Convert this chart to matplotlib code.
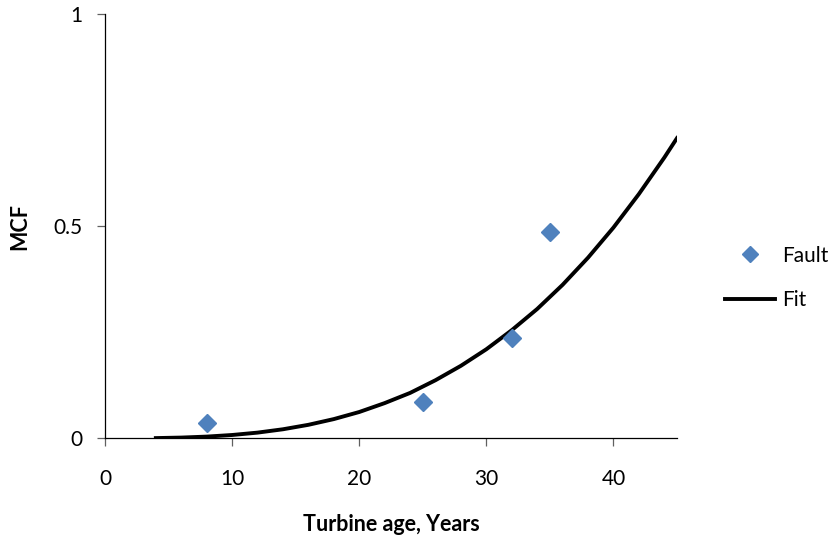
import matplotlib.pyplot as plt

plt.rcParams['font.family'] = ['Lato', 'DejaVu Sans']

# observed faults
age = [8, 25, 32, 35]
mcf = [0.037, 0.085, 0.237, 0.487]

# fitted curve, read along its length
fit_age = [4, 6, 8, 10, 12, 14, 16, 18, 20, 22, 24, 26, 28, 30, 32, 34, 36, 38, 40, 42, 44, 45]
fit_mcf = [0.0005, 0.0017, 0.004, 0.0078, 0.0134, 0.0213, 0.0318, 0.0453, 0.062, 0.083, 0.107,
           0.137, 0.171, 0.210, 0.255, 0.305, 0.362, 0.426, 0.497, 0.576, 0.662, 0.708]

xticks = [0, 10, 20, 30, 40]
yticks = [0, 0.5, 1]
yticklabels = ['0', '0.5', '1']

fig = plt.figure(figsize=(8.34, 5.4), dpi=100)
ax = fig.add_axes([105 / 834, 1 - 438.3 / 540, 572 / 834, 424 / 540])

ax.plot(age, mcf, linestyle='none', marker='D', markersize=9, color='#4F81BD', label='Fault', zorder=3)
ax.plot(fit_age, fit_mcf, color='black', linewidth=2.8, label='Fit', zorder=2)

ax.set_xlim(0, 45)
ax.set_ylim(0, 1)
ax.set_xticks(xticks)
ax.set_yticks(yticks)
ax.set_yticklabels(yticklabels)
ax.spines['top'].set_visible(False)
ax.spines['right'].set_visible(False)
for s in ['left', 'bottom']:
    ax.spines[s].set_linewidth(0.9)
ax.tick_params(axis='x', direction='out', length=6, width=0.9, color='#606060', pad=16, labelsize=15)
ax.tick_params(axis='y', direction='out', length=6, width=0.9, color='#606060', pad=10, labelsize=15)

ax.set_xlabel('Turbine age, Years', fontsize=15.5, fontweight='bold')
ax.set_ylabel('MCF', fontsize=15.5, fontweight='bold')
ax.xaxis.set_label_coords(0.5, -0.178)
ax.yaxis.set_label_coords(-0.13, 0.5)

ax.legend(loc='center left', bbox_to_anchor=(725 / 834, 1 - 278 / 540), bbox_transform=fig.transFigure,
          frameon=False, fontsize=15, handlelength=2.4, handletextpad=0.35, labelspacing=1.2,
          borderpad=0, borderaxespad=0, markerscale=0.85)

fig.savefig('out.png', dpi=100)
